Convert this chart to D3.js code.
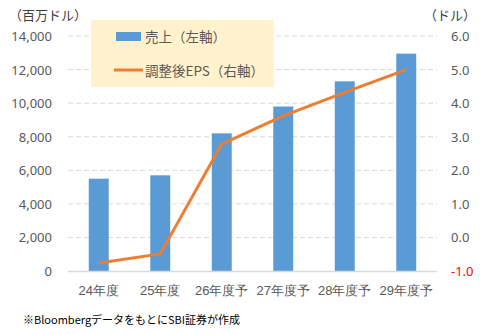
<!DOCTYPE html>
<html><head><meta charset="utf-8">
<script src="https://cdn.jsdelivr.net/npm/d3@7"></script>
<style>
body{margin:0;background:#fff;}
svg{display:block;font-family:"Noto Sans CJK JP","Noto Sans",sans-serif;}
</style></head>
<body>
<script>
const categories = ["24年度","25年度","26年度予","27年度予","28年度予","29年度予"];
const sales = [5500, 5700, 8200, 9800, 11300, 12950];
const eps = [-0.76, -0.49, 2.78, 3.62, 4.32, 5.0];
const leftTicks = [0,2000,4000,6000,8000,10000,12000,14000];
const rightTicks = [-1,0,1,2,3,4,5,6];
const legendLabels = ["売上（左軸）","調整後EPS（右軸）"];
const leftTitle = "（百万ドル）";
const rightTitle = "（ドル）";
const footnote = "※BloombergデータをもとにSBI証券が作成";

const W=480,H=334;
const svg=d3.select("body").append("svg").attr("width",W).attr("height",H);
const x0=68,x1=437,yTop=36,yBot=271;
const x=d3.scaleBand().domain(categories).range([x0,x1]).paddingInner(0.675).paddingOuter(0.3375);
const yL=d3.scaleLinear().domain([0,14000]).range([yBot,yTop]);
const yR=d3.scaleLinear().domain([-1,6]).range([yBot,yTop]);

// grid
svg.append("g").selectAll("line").data(leftTicks.filter(d=>d>0)).join("line")
 .attr("x1",x0).attr("x2",x1).attr("y1",d=>yL(d)).attr("y2",d=>yL(d))
 .attr("stroke","#D9D9D9").attr("stroke-width",1).attr("stroke-dasharray","5,3");

// bars
svg.append("g").selectAll("rect").data(sales).join("rect")
 .attr("x",(d,i)=>x(categories[i])).attr("width",x.bandwidth())
 .attr("y",d=>yL(d)).attr("height",d=>yBot-yL(d)).attr("fill","#5B9BD5");

// baseline
svg.append("line").attr("x1",x0).attr("x2",x1).attr("y1",yBot+0.5).attr("y2",yBot+0.5)
 .attr("stroke","#D9D9D9").attr("stroke-width",1.5);

// line
const line=d3.line().x((d,i)=>x(categories[i])+x.bandwidth()/2).y(d=>yR(d));
svg.append("path").datum(eps).attr("d",line).attr("fill","none")
 .attr("stroke","#ED7D31").attr("stroke-width",3).attr("stroke-linejoin","round");

// left axis
const axL=d3.axisLeft(yL).tickValues(leftTicks).tickFormat(d3.format(",")).tickSize(0).tickPadding(0);
const gL=svg.append("g").attr("transform","translate(52,0)").call(axL);
gL.select(".domain").remove();
gL.selectAll("text").attr("fill","#595959").style("font-size","13px").style("font-family","'Noto Sans',sans-serif").attr("dy","0.35em");

// right axis
const axR=d3.axisRight(yR).tickValues(rightTicks).tickFormat(d3.format(".1f")).tickSize(0).tickPadding(0);
const gR=svg.append("g").attr("transform","translate(451,0)").call(axR);
gR.select(".domain").remove();
gR.selectAll("text").attr("fill",d=>d<0?"#FF0000":"#595959").style("font-size","13px").style("font-family","'Noto Sans',sans-serif").attr("dy","0.35em")
 .text(d=>d<0?"-"+d3.format(".1f")(-d):d3.format(".1f")(d));

// x axis
const axX=d3.axisBottom(x).tickSize(0).tickPadding(0);
const gX=svg.append("g").attr("transform","translate(0,286)").call(axX);
gX.select(".domain").remove();
gX.selectAll("text").attr("fill","#595959").style("font-size","13px").attr("dy","0.71em").attr("y",0);

// titles
svg.append("text").attr("x",9).attr("y",20).text(leftTitle).attr("fill","#404040").style("font-size","13px");
svg.append("text").attr("x",424).attr("y",20).text(rightTitle).attr("fill","#404040").style("font-size","13px");

// legend
const lg=svg.append("g");
lg.append("rect").attr("x",91).attr("y",20).attr("width",183).attr("height",67).attr("fill","#FFF2CC");
lg.append("rect").attr("x",116).attr("y",32).attr("width",25).attr("height",9).attr("fill","#5B9BD5");
lg.append("line").attr("x1",114).attr("x2",143).attr("y1",70).attr("y2",70).attr("stroke","#ED7D31").attr("stroke-width",3);
lg.append("text").attr("x",145).attr("y",37).attr("dy","0.35em").text(legendLabels[0]).attr("fill","#595959").style("font-size","13.5px");
lg.append("text").attr("x",145).attr("y",71).attr("dy","0.35em").text(legendLabels[1]).attr("fill","#595959").style("font-size","13.5px");

// footnote
svg.append("text").attr("x",23).attr("y",320).attr("dy","0.35em").text(footnote).attr("fill","#000").style("font-size","11px");
</script>
</body></html>
